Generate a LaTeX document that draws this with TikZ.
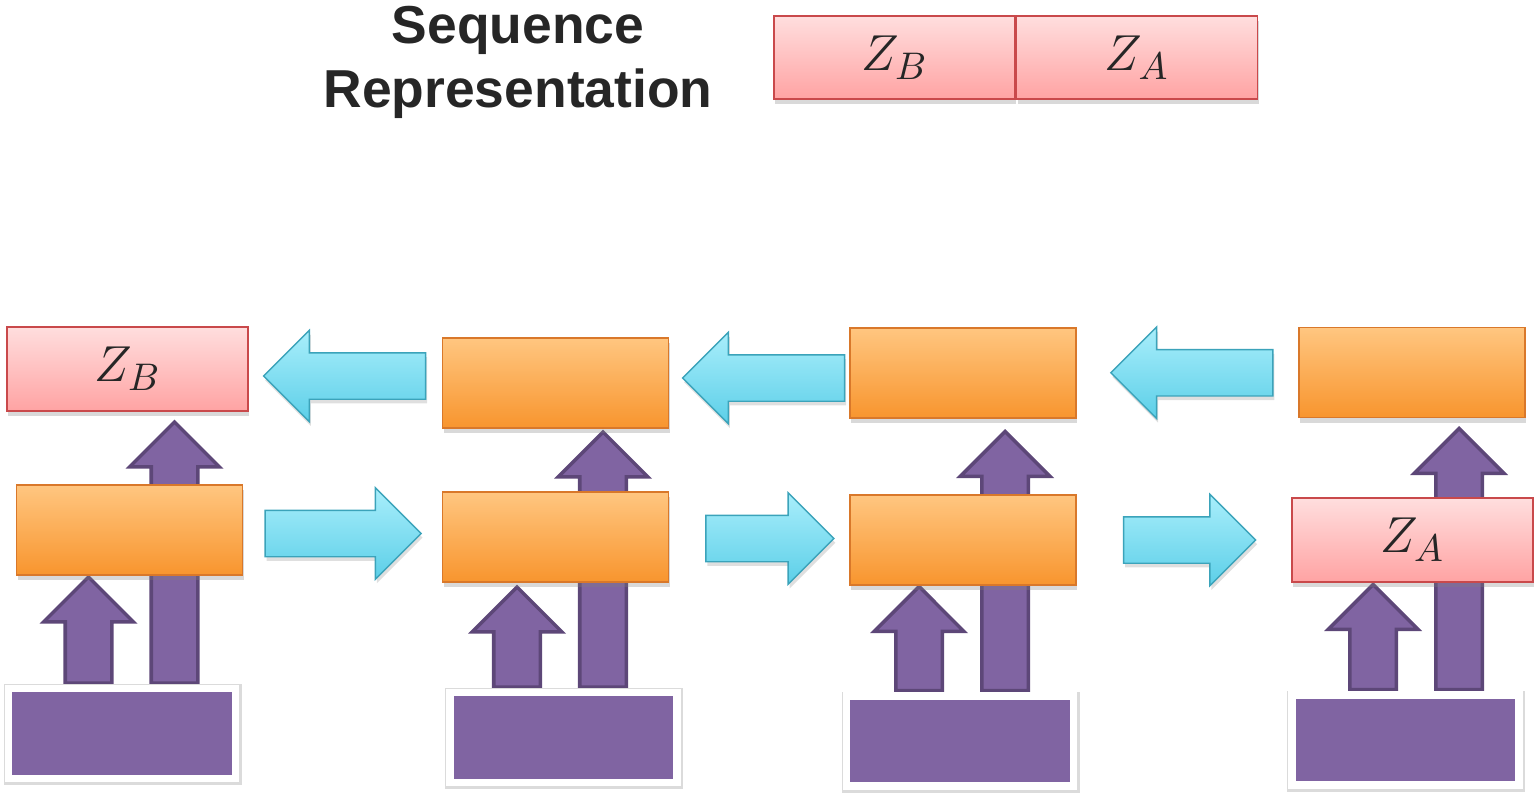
\documentclass[tikz,border=0pt]{standalone}
\usepackage{fontspec}
\setmainfont{Liberation Sans}
\usetikzlibrary{positioning,calc,shapes.arrows,shadows,backgrounds}

\definecolor{reptop}{HTML}{FFDEDE}
\definecolor{repbot}{HTML}{FFA3A3}
\definecolor{repline}{HTML}{C9494B}
\definecolor{celltop}{HTML}{FFC680}
\definecolor{cellbot}{HTML}{F8952E}
\definecolor{cellline}{HTML}{D9782A}
\definecolor{flowtop}{HTML}{A9EEFB}
\definecolor{flowbot}{HTML}{5CCFE8}
\definecolor{flowline}{HTML}{3BA3BA}
\definecolor{tokfill}{HTML}{8064A2}
\definecolor{tokline}{HTML}{5D4778}
\definecolor{inkgray}{HTML}{262626}

\tikzset{
  repbox/.style={draw=repline, top color=reptop, bottom color=repbot,
    minimum width=2.41cm, minimum height=0.84cm, inner sep=0pt,
    text=inkgray, font=\fontsize{15}{17}\selectfont,
    drop shadow={shadow xshift=0.4pt, shadow yshift=-1.5pt, opacity=0.3}},
  cellbox/.style={draw=cellline, top color=celltop, bottom color=cellbot,
    minimum width=2.26cm, minimum height=0.9cm,
    drop shadow={shadow xshift=0.4pt, shadow yshift=-1.5pt, opacity=0.3}},
  tokbox/.style={fill=tokfill, draw=white, line width=0.075cm,
    minimum width=2.27cm, minimum height=0.9cm,
    preaction={draw=black!14, line width=0.11cm, transform canvas={xshift=0.2pt, yshift=-0.3pt}}},
  flowarrow/.style={single arrow, draw=flowline, top color=flowtop, bottom color=flowbot,
    inner sep=0.225cm, single arrow head extend=0.225cm, minimum width=0pt,
    drop shadow={shadow xshift=0.4pt, shadow yshift=-1.2pt, opacity=0.25}},
  fwdarrow/.style={flowarrow, xshift=-0.11cm},
  bwdarrow/.style={flowarrow, shape border rotate=180, xshift=0.11cm},
  inarrow/.style={single arrow, shape border rotate=90, anchor=tail,
    fill=tokfill, draw=tokline, line width=1pt,
    inner sep=0.215cm, single arrow head extend=0.215cm, minimum width=0pt}
}

\begin{document}
\begin{tikzpicture}
\useasboundingbox (0,0) rectangle (15.37,7.93);

% heading and the joined sequence
\node[text=inkgray, align=center, font=\fontsize{15.2}{18.2}\selectfont\bfseries] (title) at (5.18,7.31) {Sequence\\Representation};
\node[repbox, minimum height=0.83cm] (sb) at (8.945,7.355) {$Z_B$};
\node[repbox, minimum height=0.83cm, right=0pt of sb] (sa) {$Z_A$};

% token boxes
\node[tokbox] (b1) at (1.22,0.595) {};
\node[tokbox] (b2) at (5.635,0.555) {};
\node[tokbox] (b3) at (9.60,0.52) {};
\node[tokbox] (b4) at (14.055,0.53) {};

% forward row
\node[cellbox] (h1) at (1.295,2.63) {};
\node[cellbox] (h2) at (5.555,2.56) {};
\node[cellbox] (h3) at (9.63,2.53) {};
\node[repbox] (za) at (14.125,2.53) {$Z_A$};

% backward row
\node[repbox] (zb) at (1.275,4.24) {$Z_B$};
\node[cellbox] (t2) at (5.555,4.10) {};
\node[cellbox] (t3) at (9.63,4.20) {};
\node[cellbox] (t4) at (14.12,4.205) {};

% arrows along the rows
\node[fwdarrow, minimum height=1.56cm] (r1) at ($(h1.east)!0.5!(h2.west)$) {};
\node[fwdarrow, minimum height=1.28cm, xshift=0.1cm] (r2) at ($(h2.east)!0.5!(h3.west)$) {};
\node[fwdarrow, minimum height=1.32cm, xshift=0.05cm] (r3) at ($(h3.east)!0.5!(za.west)$) {};
\node[bwdarrow, minimum height=1.62cm] (l1) at ($(zb.east)!0.5!(t2.west)$) {};
\node[bwdarrow, minimum height=1.62cm, xshift=0.05cm] (l2) at ($(t2.east)!0.5!(t3.west)$) {};
\node[bwdarrow, minimum height=1.62cm, xshift=0.05cm] (l3) at ($(t3.east)!0.5!(t4.west)$) {};

% token inputs, behind the boxes
\begin{scope}[on background layer]
\node[inarrow, minimum height=1.06cm, xshift=-0.41cm] (s1) at (h1.center |- b1.north) {};
\node[inarrow, minimum height=2.61cm, xshift=0.45cm] (u1) at (h1.center |- b1.north) {};
\node[inarrow, minimum height=1.00cm, xshift=-0.385cm] (s2) at (h2.center |- b2.north) {};
\node[inarrow, minimum height=2.55cm, xshift=0.475cm] (u2) at (h2.center |- b2.north) {};
\node[inarrow, minimum height=1.04cm, xshift=-0.44cm] (s3) at (h3.center |- b3.north) {};
\node[inarrow, minimum height=2.59cm, xshift=0.42cm] (u3) at (h3.center |- b3.north) {};
\node[inarrow, minimum height=1.05cm, xshift=-0.395cm] (s4) at (za.center |- b4.north) {};
\node[inarrow, minimum height=2.61cm, xshift=0.465cm] (u4) at (za.center |- b4.north) {};
\end{scope}
\end{tikzpicture}
\end{document}
